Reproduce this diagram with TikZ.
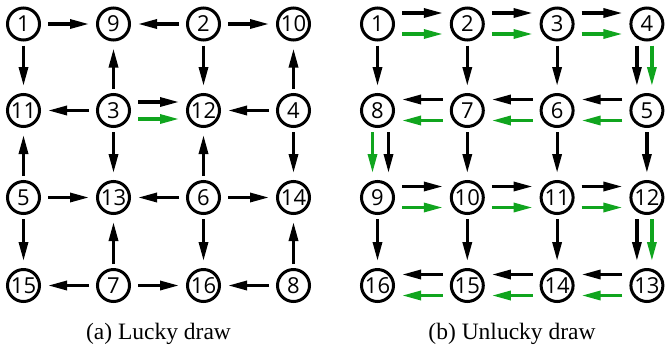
\documentclass[tikz,border=0pt]{standalone}
\usepackage{fontspec}
\setmainfont{Liberation Serif}
\newfontfamily\numfont{Open Sans}
\usetikzlibrary{arrows.meta}
\definecolor{drawgreen}{RGB}{16,165,30}

\begin{document}
\begin{tikzpicture}[x=1bp,y=-1bp,
  vtx/.style={circle,draw,line width=3bp,minimum size=32bp,inner sep=0pt,
    font=\numfont\fontsize{22bp}{24bp}\selectfont},
  arr/.style={line width=3.2bp,-{Triangle[length=19bp,width=9bp]},shorten <=7bp,shorten >=7bp},
  varr/.style={arr,shorten <=4bp,shorten >=7bp},
  grn/.style={drawgreen},
  subcap/.style={anchor=base,font=\fontsize{23.5bp}{26bp}\selectfont}]
\useasboundingbox (0,0) rectangle (665,349);

% (a) lucky draw
\node[vtx] (a1) at (23.5,24) {1};
\node[vtx] (a9) at (113.5,24) {9};
\node[vtx] (a2) at (203.5,24) {2};
\node[vtx] (a10) at (293.5,24) {10};
\node[vtx] (a11) at (23.5,110.5) {11};
\node[vtx] (a3) at (113.5,110.5) {3};
\node[vtx] (a12) at (203.5,110.5) {12};
\node[vtx] (a4) at (293.5,110.5) {4};
\node[vtx] (a5) at (23.5,197.5) {5};
\node[vtx] (a13) at (113.5,197.5) {13};
\node[vtx] (a6) at (203.5,197.5) {6};
\node[vtx] (a14) at (293.5,197.5) {14};
\node[vtx] (a15) at (23.5,285.5) {15};
\node[vtx] (a7) at (113.5,285.5) {7};
\node[vtx] (a16) at (203.5,285.5) {16};
\node[vtx] (a8) at (293.5,285.5) {8};

\draw[arr] (a1) -- (a9);
\draw[arr] (a2) -- (a9);
\draw[arr] (a2) -- (a10);
\draw[arr] (a3) -- (a11);
\draw[arr] ([yshift=8.5bp]a3.east) -- ([yshift=8.5bp]a12.west);
\draw[arr,grn] ([yshift=-8.5bp]a3.east) -- ([yshift=-8.5bp]a12.west);
\draw[arr] (a4) -- (a12);
\draw[arr] (a5) -- (a13);
\draw[arr] (a6) -- (a13);
\draw[arr] (a6) -- (a14);
\draw[arr] (a7) -- (a15);
\draw[arr] (a7) -- (a16);
\draw[arr] (a8) -- (a16);
\draw[varr] (a1) -- (a11);
\draw[varr] (a5) -- (a11);
\draw[varr] (a5) -- (a15);
\draw[varr] (a3) -- (a9);
\draw[varr] (a3) -- (a13);
\draw[varr] (a7) -- (a13);
\draw[varr] (a2) -- (a12);
\draw[varr] (a6) -- (a12);
\draw[varr] (a6) -- (a16);
\draw[varr] (a4) -- (a10);
\draw[varr] (a4) -- (a14);
\draw[varr] (a8) -- (a14);

% (b) unlucky draw
\node[vtx] (b1) at (377.5,24) {1};
\node[vtx] (b2) at (467.3,24) {2};
\node[vtx] (b3) at (557.1,24) {3};
\node[vtx] (b4) at (646.9,24) {4};
\node[vtx] (b8) at (377.5,110.5) {8};
\node[vtx] (b7) at (467.3,110.5) {7};
\node[vtx] (b6) at (557.1,110.5) {6};
\node[vtx] (b5) at (646.9,110.5) {5};
\node[vtx] (b9) at (377.5,197.5) {9};
\node[vtx] (b10) at (467.3,197.5) {10};
\node[vtx] (b11) at (557.1,197.5) {11};
\node[vtx] (b12) at (646.9,197.5) {12};
\node[vtx] (b16) at (377.5,285.5) {16};
\node[vtx] (b15) at (467.3,285.5) {15};
\node[vtx] (b14) at (557.1,285.5) {14};
\node[vtx] (b13) at (646.9,285.5) {13};

\draw[arr] ([yshift=11bp]b1.east) -- ([yshift=11bp]b2.west);
\draw[arr,grn] ([yshift=-10bp]b1.east) -- ([yshift=-10bp]b2.west);
\draw[arr] ([yshift=11bp]b2.east) -- ([yshift=11bp]b3.west);
\draw[arr,grn] ([yshift=-10bp]b2.east) -- ([yshift=-10bp]b3.west);
\draw[arr] ([yshift=11bp]b3.east) -- ([yshift=11bp]b4.west);
\draw[arr,grn] ([yshift=-10bp]b3.east) -- ([yshift=-10bp]b4.west);
\draw[varr] ([xshift=-10bp]b4.south) -- ([xshift=-10bp]b5.north);
\draw[varr,grn] ([xshift=5bp]b4.south) -- ([xshift=5bp]b5.north);
\draw[arr] ([yshift=11bp]b5.west) -- ([yshift=11bp]b6.east);
\draw[arr,grn] ([yshift=-10bp]b5.west) -- ([yshift=-10bp]b6.east);
\draw[arr] ([yshift=11bp]b6.west) -- ([yshift=11bp]b7.east);
\draw[arr,grn] ([yshift=-10bp]b6.west) -- ([yshift=-10bp]b7.east);
\draw[arr] ([yshift=11bp]b7.west) -- ([yshift=11bp]b8.east);
\draw[arr,grn] ([yshift=-10bp]b7.west) -- ([yshift=-10bp]b8.east);
\draw[varr,grn] ([xshift=-5bp]b8.south) -- ([xshift=-5bp]b9.north);
\draw[varr] ([xshift=11bp]b8.south) -- ([xshift=11bp]b9.north);
\draw[arr] ([yshift=11bp]b9.east) -- ([yshift=11bp]b10.west);
\draw[arr,grn] ([yshift=-10bp]b9.east) -- ([yshift=-10bp]b10.west);
\draw[arr] ([yshift=11bp]b10.east) -- ([yshift=11bp]b11.west);
\draw[arr,grn] ([yshift=-10bp]b10.east) -- ([yshift=-10bp]b11.west);
\draw[arr] ([yshift=11bp]b11.east) -- ([yshift=11bp]b12.west);
\draw[arr,grn] ([yshift=-10bp]b11.east) -- ([yshift=-10bp]b12.west);
\draw[varr] ([xshift=-10bp]b12.south) -- ([xshift=-10bp]b13.north);
\draw[varr,grn] ([xshift=5bp]b12.south) -- ([xshift=5bp]b13.north);
\draw[arr] ([yshift=11bp]b13.west) -- ([yshift=11bp]b14.east);
\draw[arr,grn] ([yshift=-10bp]b13.west) -- ([yshift=-10bp]b14.east);
\draw[arr] ([yshift=11bp]b14.west) -- ([yshift=11bp]b15.east);
\draw[arr,grn] ([yshift=-10bp]b14.west) -- ([yshift=-10bp]b15.east);
\draw[arr] ([yshift=11bp]b15.west) -- ([yshift=11bp]b16.east);
\draw[arr,grn] ([yshift=-10bp]b15.west) -- ([yshift=-10bp]b16.east);
\draw[varr] (b1) -- (b8);
\draw[varr] (b2) -- (b7);
\draw[varr] (b3) -- (b6);
\draw[varr] (b7) -- (b10);
\draw[varr] (b6) -- (b11);
\draw[varr] (b5) -- (b12);
\draw[varr] (b9) -- (b16);
\draw[varr] (b10) -- (b15);
\draw[varr] (b11) -- (b14);

\node[subcap] (capa) at (158.5,339) {(a) Lucky draw};
\node[subcap] (capb) at (512,339) {(b) Unlucky draw};
\end{tikzpicture}
\end{document}
